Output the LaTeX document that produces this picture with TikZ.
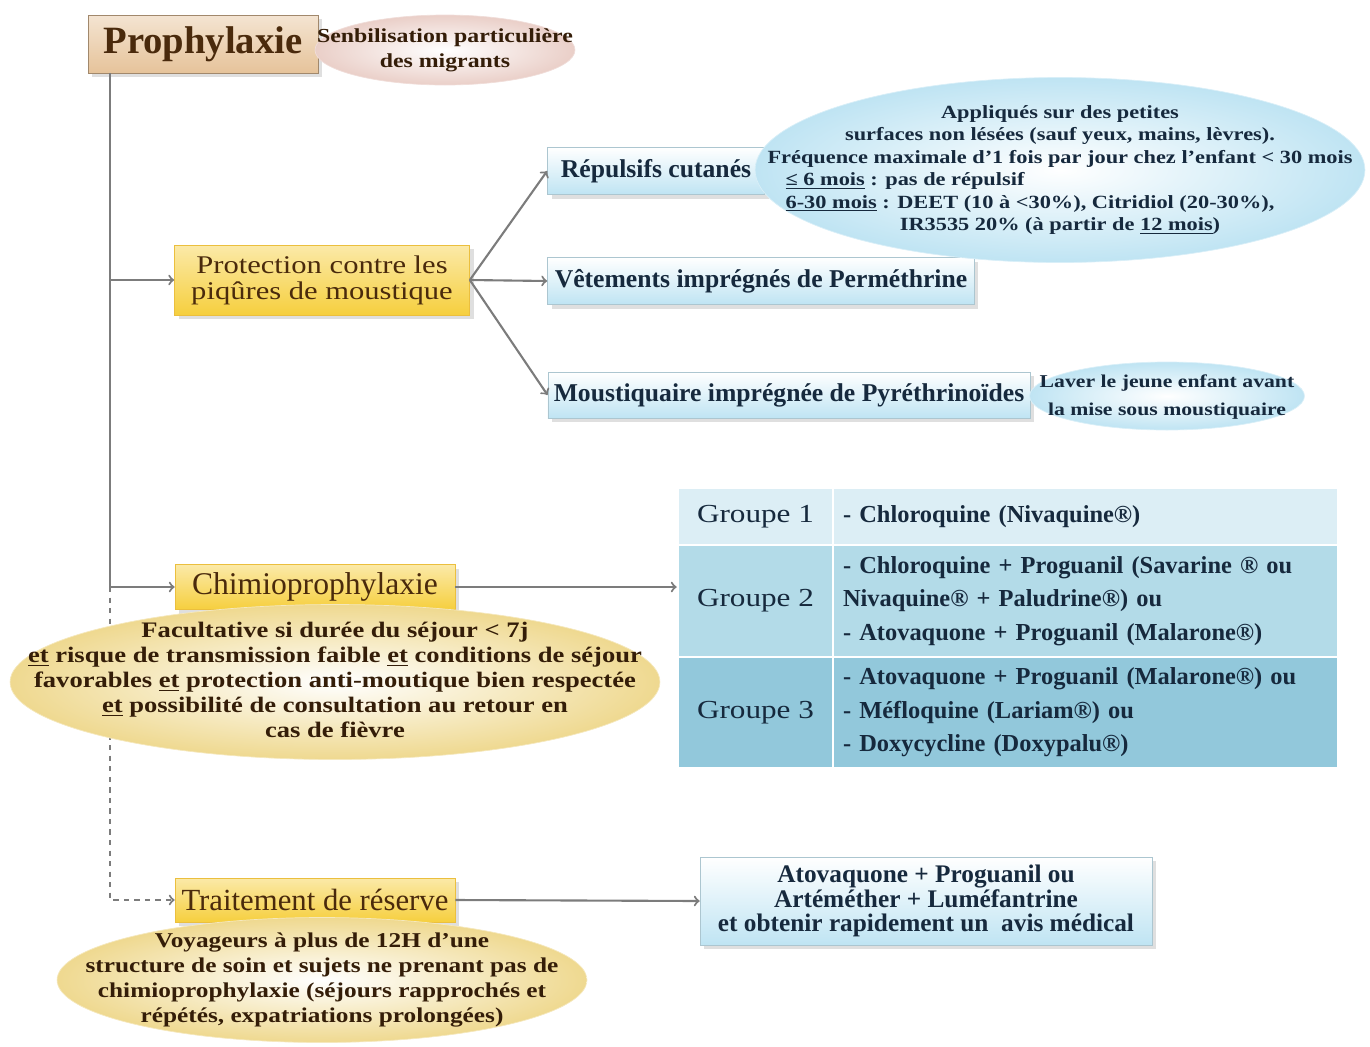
\documentclass[tikz,border=0pt]{standalone}
\usepackage{fontspec}
\setmainfont{Liberation Serif}
\newfontfamily\widefont{Liberation Serif}[FakeStretch=1.2]
\usetikzlibrary{shapes.geometric,shadows}

\definecolor{linegray}{HTML}{7C7C7C}
\definecolor{tanfill}{HTML}{E6C39A}
\definecolor{goldfill}{HTML}{F6CF3E}
\definecolor{bluefill}{HTML}{BFE4F3}
\definecolor{pinkfill}{HTML}{EACFC8}
\definecolor{creamfill}{HTML}{ECD27C}
\definecolor{browntext}{HTML}{4A2A0C}
\definecolor{navytext}{HTML}{16293D}
\definecolor{rowone}{HTML}{DCEEF5}
\definecolor{rowtwo}{HTML}{B3DBE8}
\definecolor{rowthree}{HTML}{92C8DB}

% text of an oval: takes no room, so the oval keeps its given size
\newcommand{\ovaltext}[1]{\smash{\raisebox{-0.25em}{\makebox[0pt]{\begin{tabular}{@{}c@{}}#1\end{tabular}}}}}

\tikzstyle{title box}=[rectangle, draw=tanfill!70!black, top color=tanfill!45!white, bottom color=tanfill, text=browntext, font=\bfseries\fontsize{22}{24}\selectfont, drop shadow={opacity=0.25}]
\tikzstyle{gold box}=[rectangle, draw=goldfill!80!brown, top color=goldfill!45!white, bottom color=goldfill, text=browntext, align=center, drop shadow={opacity=0.25}]
\tikzstyle{blue box}=[rectangle, draw=bluefill!70!gray, top color=white, bottom color=bluefill, text=navytext, align=center, font=\bfseries\fontsize{14.6}{13.8}\selectfont, drop shadow={opacity=0.25}]
\tikzstyle{note}=[ellipse, inner sep=0pt]
\tikzstyle{blue note}=[note, draw=bluefill!60!white, inner color=white, outer color=bluefill, text=navytext]
\tikzstyle{yellow note}=[note, draw=creamfill!50!white, inner color=white, outer color=creamfill!85!white, text=browntext!70!black, font=\widefont\bfseries\fontsize{12.6}{14.2}\selectfont]
\tikzstyle{cell}=[rectangle, draw=white, line width=1.5pt, text=navytext, inner sep=0pt]
\tikzstyle{link}=[draw, line width=1.2pt, linegray, ->]
\tikzstyle{spine}=[draw, line width=1.2pt, linegray, -]

\begin{document}
\begin{tikzpicture}[x=0.02cm, y=-0.02cm]
	\useasboundingbox (0,0) rectangle (1370,1046);

	% prophylaxie
	\node[title box, minimum width=4.6cm, minimum height=1.16cm] (proph) at (203,44) {Prophylaxie};
	\node[note, draw=pinkfill!70!white, inner color=white, outer color=pinkfill, text=browntext!70!black, font=\widefont\bfseries\fontsize{11.3}{14.2}\selectfont, minimum width=5.2cm, minimum height=1.4cm] (migr) at (445,50) {\ovaltext{Senbilisation particulière\\ des migrants}};

	% protection
	\node[gold box, font=\widefont\fontsize{14.5}{14.7}\selectfont, minimum width=5.9cm, minimum height=1.4cm] (protec) at (322,280) {Protection contre les\\ piqûres de moustique};
	\node[blue box, minimum width=4.34cm, minimum height=0.94cm] (repul) at (656,171) {Répulsifs cutanés};
	\node[blue box, minimum width=8.54cm, minimum height=0.94cm] (vetem) at (761,281) {Vêtements imprégnés de Perméthrine};
	\node[blue box, minimum width=9.64cm, minimum height=0.92cm] (moust) at (789,395) {Moustiquaire imprégnée de Pyréthrinoïdes};
	\node[blue note, font=\widefont\bfseries\fontsize{10.6}{12.8}\selectfont, minimum width=12.2cm, minimum height=3.7cm] (repnote) at (1060,170) {\ovaltext{Appliqués sur des petites\\ surfaces non lésées (sauf yeux, mains, lèvres).\\ Fréquence maximale d’1 fois par jour chez l’enfant < 30 mois\\ \begin{tabular}{@{}l@{}}\underline{≤ 6 mois} : pas de répulsif\\ \underline{6-30 mois} : DEET (10 à <30\%), Citridiol (20-30\%),\end{tabular}\hspace*{1.2cm}\\ IR3535 20\% (à partir de \underline{12 mois})}};
	\node[blue note, font=\widefont\bfseries\fontsize{10.3}{16}\selectfont, minimum width=5.5cm, minimum height=1.36cm] (lavnote) at (1167,396) {\ovaltext{Laver le jeune enfant avant\\ la mise sous moustiquaire}};

	% chimioprophylaxie
	\node[gold box, font=\fontsize{18}{18}\selectfont, minimum width=5.6cm, minimum height=0.9cm] (chimio) at (315,587) {Chimioprophylaxie};
	\foreach \pos/\name/\txt/\col/\rowh in {{(755.5,516.5)/g1/Groupe 1/rowone/1.14cm}, {(755.5,601)/g2/Groupe 2/rowtwo/2.24cm}, {(755.5,712.5)/g3/Groupe 3/rowthree/2.22cm}}
		\node[cell, fill=\col, minimum width=3.1cm, minimum height=\rowh, font=\widefont\fontsize{14.8}{18}\selectfont] (\name) at \pos {\txt};
	\tikzset{every node/.append style={align=left}}
	\node[cell, fill=rowone, minimum width=10.1cm, minimum height=1.14cm, text width=9.7cm, font=\bfseries\fontsize{13.9}{19}\selectfont] (d1) at (1085.5,516.5) {- Chloroquine (Nivaquine®)};
	\node[cell, fill=rowtwo, minimum width=10.1cm, minimum height=2.24cm, text width=9.7cm, font=\bfseries\fontsize{13.9}{19}\selectfont] (d2) at (1085.5,601) {- Chloroquine + Proguanil (Savarine ® ou\\ Nivaquine® + Paludrine®) ou\\ - Atovaquone + Proguanil (Malarone®)};
	\node[cell, fill=rowthree, minimum width=10.1cm, minimum height=2.22cm, text width=9.7cm, font=\bfseries\fontsize{13.9}{19}\selectfont] (d3) at (1085.5,712.5) {- Atovaquone + Proguanil (Malarone®) ou\\ - Méfloquine (Lariam®) ou\\ - Doxycycline (Doxypalu®)};
	\tikzset{every node/.append style={align=center}}

	% traitement de reserve
	\node[gold box, font=\fontsize{17.5}{18}\selectfont, minimum width=5.6cm, minimum height=0.88cm] (reserve) at (315,900) {Traitement de réserve};
	\node[blue box, font=\bfseries\fontsize{14.4}{13.8}\selectfont, minimum width=9.04cm, minimum height=1.76cm] (treat) at (926,901) {Atovaquone + Proguanil ou\\ Artéméther + Luméfantrine\\ et obtenir rapidement un~ avis médical};

	% connectors
	\coordinate (top) at (110,73);
	\path[spine] (top) -- (top |- chimio.west);
	\path[link] (top |- protec.west) -- (protec.west);
	\path[link] (top |- chimio.west) -- (chimio.west);
	\path[link, dashed] (top |- chimio.west) -- (top |- reserve.west) -- (reserve.west);
	\foreach \dest in {repul, vetem, moust}
		\path[link] (protec.east) -- (\dest.west);
	\path[link] (chimio.east) -- (chimio.east -| g2.west);
	\path[link] (reserve.east) -- (treat.west);

	% notes over the spine
	\node[yellow note, minimum width=13cm, minimum height=3.1cm] (chimnote) at (335,682) {\ovaltext{Facultative si durée du séjour < 7j\\ \underline{et} risque de transmission faible \underline{et} conditions de séjour\\ favorables \underline{et} protection anti-moutique bien respectée\\ \underline{et} possibilité de consultation au retour en\\ cas de fièvre}};
	\node[yellow note, font=\widefont\bfseries\fontsize{12}{14.2}\selectfont, minimum width=10.6cm, minimum height=2.5cm] (resnote) at (322,980) {\ovaltext{Voyageurs à plus de 12H d’une\\ structure de soin et sujets ne prenant pas de\\ chimioprophylaxie (séjours rapprochés et\\ répétés, expatriations prolongées)}};
\end{tikzpicture}
\end{document}
